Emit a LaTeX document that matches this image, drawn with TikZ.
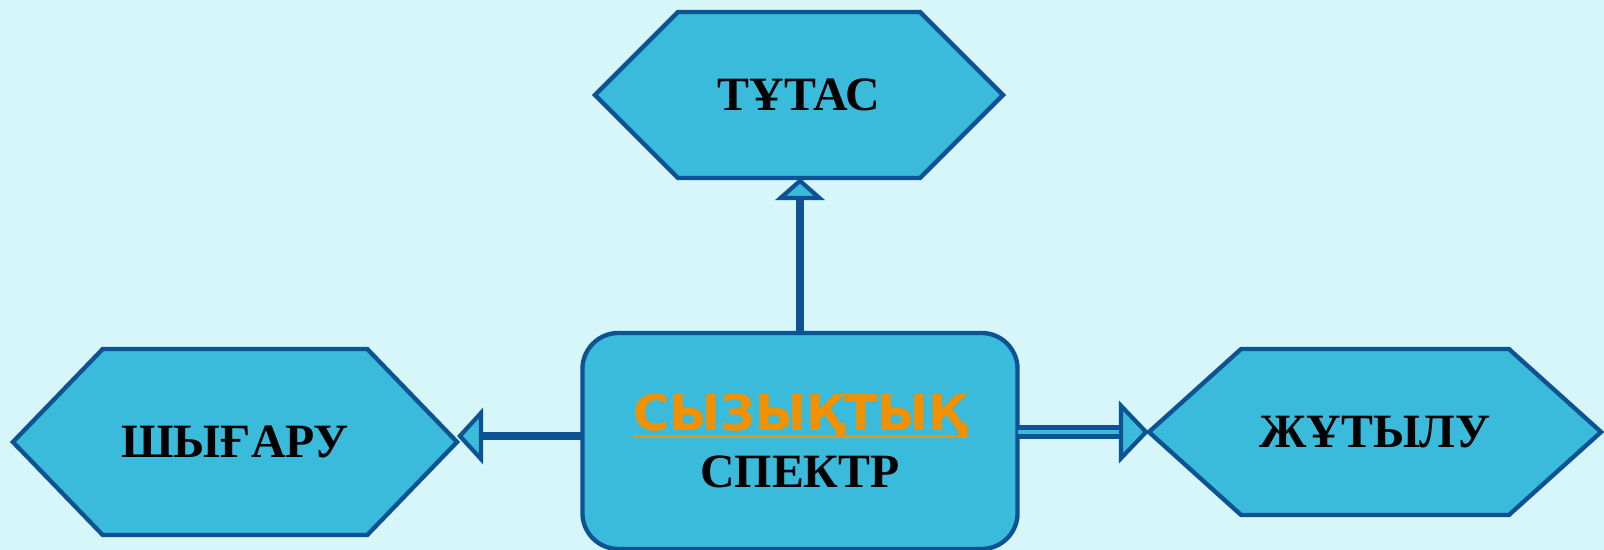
\documentclass[tikz,border=0pt]{standalone}
\usepackage{fontspec}
\setmainfont{Liberation Serif}
\newfontfamily\headfont{DejaVu Sans}
\usepackage{tikz}
\usetikzlibrary{positioning}
\usetikzlibrary{calc,arrows.meta}
\usetikzlibrary{shapes.symbols}

\definecolor{bgcyan}{HTML}{D7F6F9}
\definecolor{hexfill}{HTML}{3BBBDB}
\definecolor{hexline}{HTML}{0D5293}
\definecolor{headorange}{HTML}{F29100}

\newcommand{\thickul}[1]{\setbox0\hbox{#1}\rlap{\rule[-5.2pt]{\wd0}{2.2pt}}\box0}

\tikzset{
    hexnode/.style={signal, signal to=east and west, draw=hexline, fill=hexfill,
        line width=3.1pt, inner sep=0pt, outer sep=0pt,
        font=\fontsize{34}{40}\selectfont\bfseries},
    spectrbox/.style={draw=hexline, fill=hexfill, line width=3.1pt, rounded corners=0.9cm,
        minimum width=10.875cm, minimum height=5.4cm, inner sep=0pt, outer sep=0pt,
        align=center, font=\fontsize{34}{40}\selectfont\bfseries},
    linkarrow/.style={draw=hexline, line width=5pt,
        -{Triangle[length=0.65cm, width=1.4cm, line width=3pt, fill=hexfill]}},
}

\begin{document}
\begin{tikzpicture}[x=0.025cm, y=-0.025cm]
    % Background
    \fill[bgcyan] (0,0) rectangle (1604,550);
    \useasboundingbox (0,0) rectangle (1604,550);

    % Boxes
    \node[hexnode, signal pointer angle=90, minimum width=10.2cm, minimum height=4.15cm] (tutas) at (799,95) {ТҰТАС};
    \node[hexnode, signal pointer angle=92, minimum width=11.1cm, minimum height=4.65cm] (shygaru) at (235,442) {ШЫҒАРУ};
    \node[hexnode, signal pointer angle=84, minimum width=11.3cm, minimum height=4.15cm] (zhutylu) at (1375,432) {ЖҰТЫЛУ};
    \node[spectrbox] (spectr) at (800,441)
        {{\headfont\fontsize{35}{40}\selectfont\bfseries\color{headorange}\thickul{СЫЗЫҚТЫҚ}}\\ СПЕКТР};

    % Arrows
    \draw[linkarrow, -{Triangle[length=0.55cm, width=1.225cm, line width=3pt, fill=hexfill]}]
        (spectr.north) -- (spectr.north |- tutas.south);
    \draw[linkarrow] ([yshift=0.125cm]spectr.west) -- ([yshift=0.125cm]spectr.west -| shygaru.east);
    \draw[linkarrow, line width=3.5pt, double=hexfill, double distance=3.5pt,
        -{Triangle[length=0.75cm, width=1.55cm, line width=3pt, fill=hexfill]}]
        (spectr.east |- zhutylu.west) -- (zhutylu.west);
\end{tikzpicture}
\end{document}
